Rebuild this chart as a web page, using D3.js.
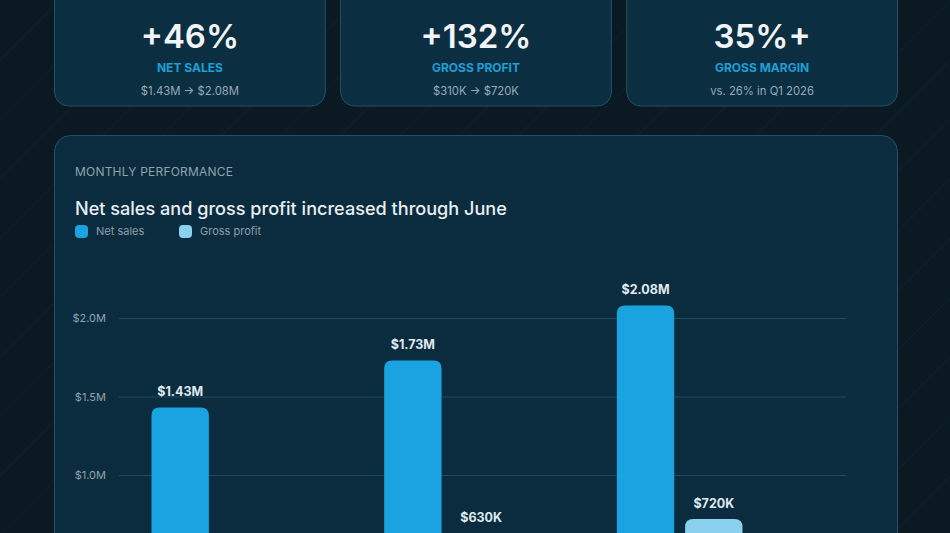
<!DOCTYPE html>
<html>
<head>
<meta charset="utf-8">
<script src="https://cdn.jsdelivr.net/npm/d3@7"></script>
<style>
  html, body { margin: 0; padding: 0; background: #0a1922; overflow: hidden; }
  svg { display: block; font-family: Inter, "Noto Sans", sans-serif; }
</style>
</head>
<body>
<svg id="chart" width="950" height="533"></svg>
<script>
// KPI cards
const kpiValues = ["+46%", "+132%", "35%+"];
const kpiLabels = ["NET SALES", "GROSS PROFIT", "GROSS MARGIN"];
const kpiNotes = ["$1.43M \u2192 $2.08M", "$310K \u2192 $720K", "vs. 26% in Q1 2026"];

// Monthly chart data
const months = ["April", "May", "June"];
const seriesNames = ["Net sales", "Gross profit"];
const netSales = [1430000, 1730000, 2080000];
const grossProfit = [310000, 630000, 720000];
const yTicks = [0, 500000, 1000000, 1500000, 2000000];

const W = 950, H = 533;
const colors = { "Net sales": "#19a4e1", "Gross profit": "#8ad0ef" };

const svg = d3.select("#chart");
const defs = svg.append("defs");

// faint diagonal stripes on the page background
const pat = defs.append("pattern")
    .attr("id", "stripes")
    .attr("width", 42).attr("height", 42)
    .attr("patternUnits", "userSpaceOnUse")
    .attr("patternTransform", "rotate(45)");
pat.append("line")
    .attr("x1", 0).attr("y1", 0).attr("x2", 0).attr("y2", 42)
    .attr("stroke", "rgba(120,170,200,0.08)")
    .attr("stroke-width", 1.2);

svg.append("rect").attr("width", W).attr("height", H).attr("fill", "#0a1922");
svg.append("rect").attr("width", W).attr("height", H).attr("fill", "url(#stripes)");

// ---- KPI cards (tops run past the top of the view) ----
const cardX = d3.scaleBand().domain(d3.range(kpiValues.length)).range([54, 898]).paddingInner(0.05);

const card = svg.append("g").selectAll("g")
    .data(kpiValues)
    .enter().append("g")
    .attr("transform", (d, i) => `translate(${cardX(i)},0)`);

card.append("rect")
    .attr("x", 0.5).attr("y", -60)
    .attr("width", cardX.bandwidth() - 1).attr("height", 166)
    .attr("rx", 14)
    .attr("fill", "#0c2e41")
    .attr("stroke", "#1f5269")
    .attr("stroke-width", 1);

card.append("text")
    .attr("x", cardX.bandwidth() / 2).attr("y", 48)
    .attr("text-anchor", "middle")
    .attr("fill", "#f1f5f7")
    .attr("font-size", 33).attr("font-weight", 600)
    .text(d => d);

card.append("text")
    .attr("x", cardX.bandwidth() / 2).attr("y", 72)
    .attr("text-anchor", "middle")
    .attr("fill", "#1f9fd6")
    .attr("font-size", 12).attr("font-weight", 700)
    .text((d, i) => kpiLabels[i]);

card.append("text")
    .attr("x", cardX.bandwidth() / 2).attr("y", 95)
    .attr("text-anchor", "middle")
    .attr("fill", "#97abb7")
    .attr("font-size", 11.3)
    .text((d, i) => kpiNotes[i]);

// ---- chart panel ----
svg.append("rect")
    .attr("x", 54.5).attr("y", 135.5)
    .attr("width", 843).attr("height", 600)
    .attr("rx", 16)
    .attr("fill", "#0b2c3e")
    .attr("stroke", "#1f5269");

svg.append("text")
    .attr("x", 75).attr("y", 176)
    .attr("fill", "#8ea3af")
    .attr("font-size", 12).attr("letter-spacing", 0.2)
    .text("MONTHLY PERFORMANCE");

svg.append("text")
    .attr("x", 75).attr("y", 215)
    .attr("fill", "#e8eff3")
    .attr("font-size", 18.1).attr("font-weight", 500)
    .text("Net sales and gross profit increased through June");

// legend
const legend = svg.append("g").selectAll("g")
    .data(seriesNames)
    .enter().append("g")
    .attr("transform", (d, i) => `translate(${75 + i * 104},225)`);
legend.append("rect")
    .attr("width", 13).attr("height", 13).attr("rx", 4)
    .attr("fill", d => colors[d]);
legend.append("text")
    .attr("x", 21).attr("y", 10)
    .attr("fill", "#8a9faa")
    .attr("font-size", 11)
    .text(d => d);

// scales
const y = d3.scaleLinear().domain([0, 2000000]).range([632, 318]);
const x0 = d3.scaleBand().domain(months).range([98, 796]).paddingInner(0.46).paddingOuter(0.23);
const x1 = d3.scaleBand().domain(seriesNames).range([0, x0.bandwidth()]).paddingInner(0.16);

const fmtAxis = v => "$" + d3.format(".1f")(v / 1e6) + "M";
const fmtVal = v => v >= 1e6 ? "$" + d3.format(".2f")(v / 1e6) + "M" : "$" + d3.format("d")(v / 1e3) + "K";

// grid + y axis
const yAxis = svg.append("g")
    .attr("transform", "translate(119,0)")
    .call(d3.axisLeft(y).tickValues(yTicks).tickFormat(fmtAxis).tickSize(-727).tickPadding(13));
yAxis.select(".domain").remove();
yAxis.selectAll(".tick line").attr("stroke", "#1f4b5e").attr("stroke-width", 1);
yAxis.selectAll(".tick text")
    .attr("fill", "#8ea3ae")
    .attr("font-size", 11)
    .attr("font-family", "Inter, 'Noto Sans', sans-serif");

// bars with rounded tops
const rows = months.map((m, i) => ({ month: m, values: [
    { series: "Net sales", value: netSales[i] },
    { series: "Gross profit", value: grossProfit[i] }
]}));

function topRounded(x, yTop, w, yBase, r) {
    return `M${x},${yBase}V${yTop + r}Q${x},${yTop} ${x + r},${yTop}H${x + w - r}Q${x + w},${yTop} ${x + w},${yTop + r}V${yBase}Z`;
}

const group = svg.append("g").selectAll("g")
    .data(rows)
    .enter().append("g")
    .attr("transform", d => `translate(${x0(d.month)},0)`);

group.selectAll("path")
    .data(d => d.values)
    .enter().append("path")
    .attr("d", d => topRounded(x1(d.series), y(d.value), x1.bandwidth(), y(0), 8))
    .attr("fill", d => colors[d.series]);

group.selectAll("text")
    .data(d => d.values)
    .enter().append("text")
    .attr("x", d => x1(d.series) + x1.bandwidth() / 2)
    .attr("y", d => y(d.value) - 11)
    .attr("text-anchor", "middle")
    .attr("fill", "#dfe9ef")
    .attr("font-size", 12.5).attr("font-weight", 700)
    .text(d => fmtVal(d.value));
</script>
</body>
</html>
